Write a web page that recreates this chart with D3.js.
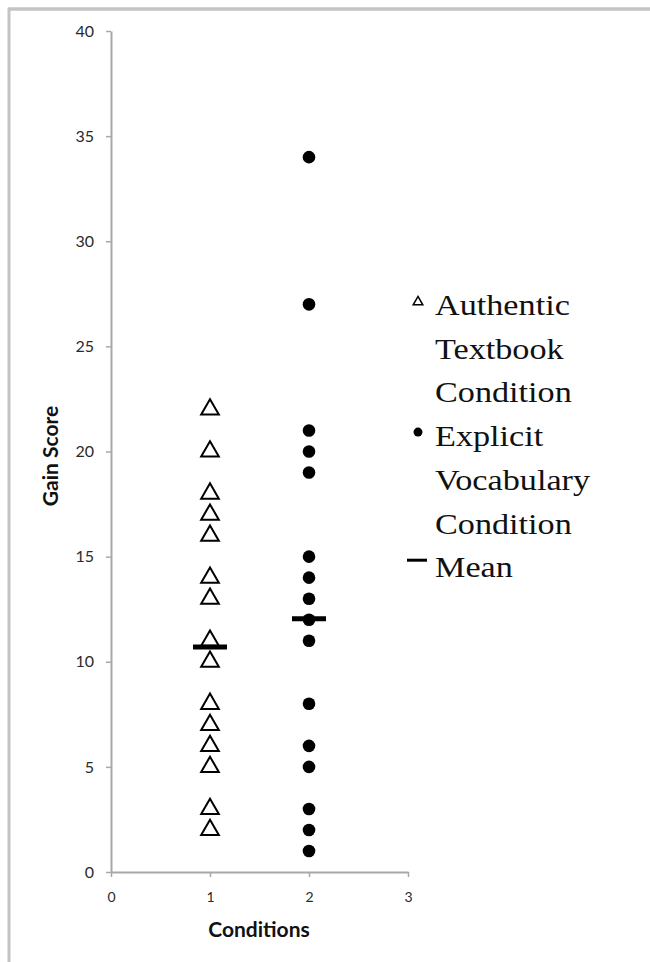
<!DOCTYPE html>
<html>
<head>
<meta charset="utf-8">
<script src="https://cdn.jsdelivr.net/npm/d3@7"></script>
<style>
  body { margin: 0; background: #fff; }
</style>
</head>
<body>
<script>
// gain scores, one array per condition
var conditions = [1, 2];
var authentic = [22, 20, 18, 17, 16, 14, 13, 11, 10, 8, 7, 6, 5, 3, 2];
var explicit = [34, 27, 21, 20, 19, 15, 14, 13, 12, 11, 8, 6, 5, 3, 2, 1];
var means = [10.7, 12.05];
var yTicks = [0, 5, 10, 15, 20, 25, 30, 35, 40];
var xTicks = [0, 1, 2, 3];
var legendLines = [
  ["Authentic", "Textbook", "Condition"],
  ["Explicit", "Vocabulary", "Condition"],
  ["Mean"]
];

var svg = d3.select("body").append("svg")
  .attr("width", 650)
  .attr("height", 962);

// frame of the pasted image
svg.append("line").attr("x1", 8).attr("x2", 650).attr("y1", 9).attr("y2", 9)
  .attr("stroke", "#c4c4c4").attr("stroke-width", 3.5);
svg.append("line").attr("x1", 9).attr("x2", 9).attr("y1", 8).attr("y2", 962)
  .attr("stroke", "#c4c4c4").attr("stroke-width", 3);

var x = d3.scaleLinear().domain([0, 3]).range([111, 408]);
var y = d3.scaleLinear().domain([0, 40]).range([872, 31]);

var yAxis = svg.append("g")
  .attr("transform", "translate(" + x(0) + ",0)")
  .call(d3.axisLeft(y).tickValues(yTicks).tickSizeInner(5).tickSizeOuter(0).tickPadding(12));

var xAxis = svg.append("g")
  .attr("transform", "translate(0," + y(0) + ")")
  .call(d3.axisBottom(x).tickValues(xTicks).tickFormat(d3.format("d"))
    .tickSizeInner(5).tickSizeOuter(0).tickPadding(15));

[yAxis, xAxis].forEach(function(g) {
  g.select(".domain").attr("stroke", "#a8a8a8").attr("stroke-width", 2);
  g.selectAll(".tick line").attr("stroke", "#a8a8a8").attr("stroke-width", 1.5);
  g.selectAll(".tick text")
    .attr("fill", "#2a2a2a")
    .style("font-family", "Lato, sans-serif");
});
yAxis.selectAll(".tick text").style("font-size", "16px");
xAxis.selectAll(".tick text").style("font-size", "14px");

// axis titles
svg.append("text")
  .attr("transform", "translate(58,456)rotate(-90)")
  .attr("text-anchor", "middle")
  .style("font-family", "Lato, sans-serif")
  .style("font-weight", "bold")
  .style("font-size", "21px")
  .attr("fill", "#111")
  .text("Gain Score");

svg.append("text")
  .attr("x", 259)
  .attr("y", 937)
  .attr("text-anchor", "middle")
  .style("font-family", "Lato, sans-serif")
  .style("font-weight", "bold")
  .style("font-size", "21px")
  .attr("fill", "#111")
  .text("Conditions");

// points
var tri = d3.symbol().type(d3.symbolTriangle).size(135);

svg.selectAll(".tri")
  .data(authentic)
  .enter()
  .append("path")
    .attr("class", "tri")
    .attr("d", tri)
    .attr("transform", function(d) { return "translate(" + x(conditions[0]) + "," + y(d) + ")"; })
    .attr("fill", "#fff")
    .attr("stroke", "#000")
    .attr("stroke-width", 2);

svg.selectAll(".dot")
  .data(explicit)
  .enter()
  .append("circle")
    .attr("class", "dot")
    .attr("cx", x(conditions[1]))
    .attr("cy", function(d) { return y(d); })
    .attr("r", 6.3)
    .attr("fill", "#000");

// mean bars
svg.selectAll(".mean")
  .data(means)
  .enter()
  .append("line")
    .attr("class", "mean")
    .attr("x1", function(d, i) { return x(conditions[i]) - 17; })
    .attr("x2", function(d, i) { return x(conditions[i]) + 17; })
    .attr("y1", function(d) { return y(d); })
    .attr("y2", function(d) { return y(d); })
    .attr("stroke", "#000")
    .attr("stroke-width", 5);

// legend
var lineGap = 43.7;
var legend = svg.append("g");
var row = 0;
legendLines.forEach(function(lines, k) {
  var top = 315 + row * lineGap;
  if (k == 0) {
    legend.append("path")
      .attr("d", d3.symbol().type(d3.symbolTriangle).size(40))
      .attr("transform", "translate(418,302)")
      .attr("fill", "#fff").attr("stroke", "#000").attr("stroke-width", 1.5);
  } else if (k == 1) {
    legend.append("circle").attr("cx", 418).attr("cy", top - 14).attr("r", 4.5).attr("fill", "#000");
  } else {
    legend.append("line").attr("x1", 407).attr("x2", 427)
      .attr("y1", top - 17).attr("y2", top - 17)
      .attr("stroke", "#000").attr("stroke-width", 3);
  }
  lines.forEach(function(t) {
    legend.append("text")
      .attr("transform", "translate(435," + (315 + row * lineGap) + ")scale(1.14,1)")
      .style("font-family", "'Liberation Serif', serif")
      .style("font-size", "30px")
      .attr("fill", "#111")
      .text(t);
    row++;
  });
});
</script>
</body>
</html>
